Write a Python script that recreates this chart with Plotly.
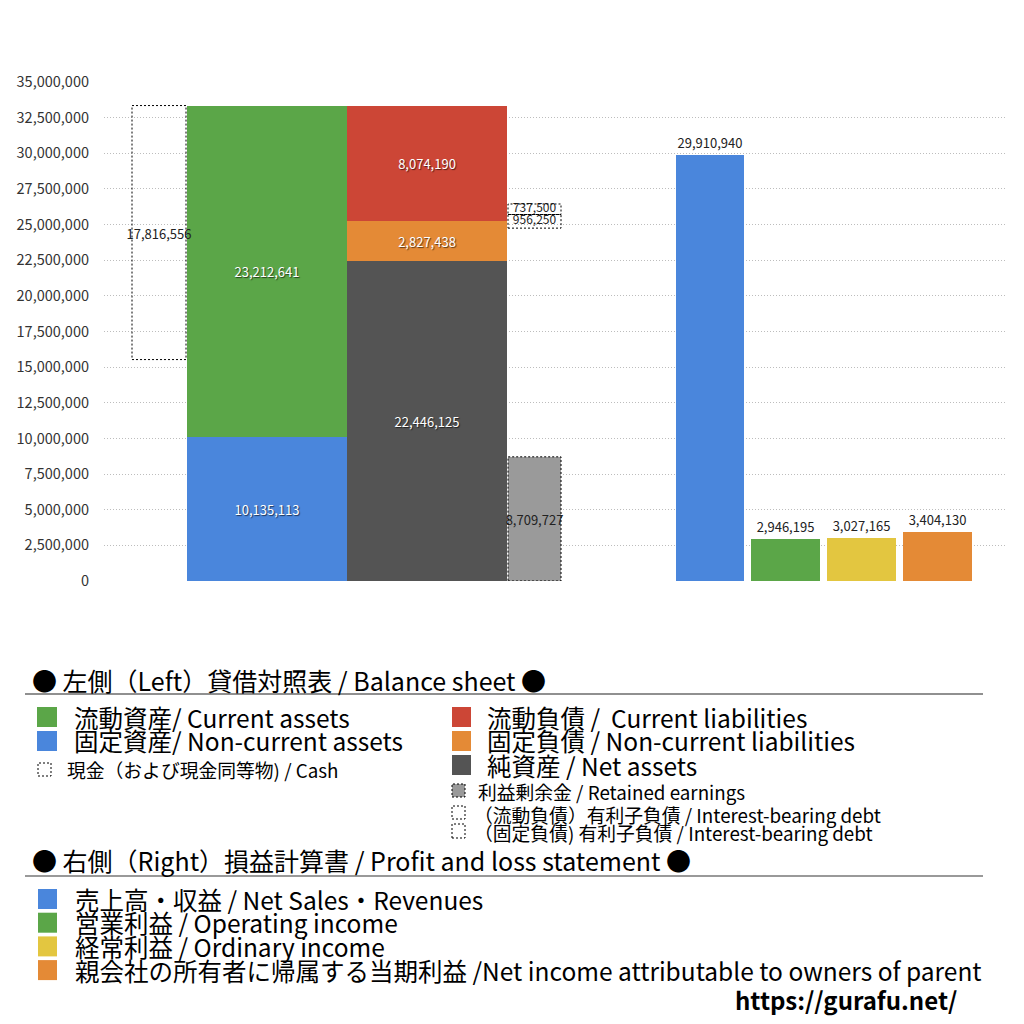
import plotly.graph_objects as go

# ---------------- data ----------------
cash = [17816556]
non_current_assets = [10135113]
current_assets = [23212641]
net_assets = [22446125]
non_current_liabilities = [2827438]
current_liabilities = [8074190]
retained_earnings = [8709727]
debt_current = [737500]
debt_non_current = [956250]
debt_offset = [24750000]  # invisible spacer below the debt boxes

pl_labels = ["売上高・収益", "営業利益", "経常利益", "親会社の所有者に帰属する当期利益"]
pl_values = [29910940, 2946195, 3027165, 3404130]

y_ticks = [i * 2500000 for i in range(15)]

# ---------------- layout constants ----------------
OFF = 8                     # page body margin
FIG = 1024 - 2 * OFF
L, R, T, B = 104, 1006, 82, 581   # plot area in reference pixels
def px(x):
    return (x - L) / (R - L)
def py(y):
    return (B - y) / (B - T)

X_CASH, W_CASH = 159, 54
X_ASSET, W_ASSET = 267, 160
X_LIAB, W_LIAB = 427, 160
X_RET, W_RET = 534.5, 53
X_PL = [710, 785.5, 861.5, 937.5]
W_PL = [68, 69, 69, 69]

C_GREEN = "#5ba648"
C_BLUE = "#4a86dc"
C_RED = "#cc4636"
C_ORANGE = "#e48a36"
C_NET = "#545454"
C_YELLOW = "#e3c640"
C_RET = "#9a9a9a"

FONT = "Noto Sans CJK JP"
white_txt = dict(color="white", size=13, family=FONT, shadow="1px 1px 1px rgba(0,0,0,0.6)")
dark_txt = dict(color="#222222", size=13, family=FONT)

fig = go.Figure()

def fmt(v):
    return f"{v:,}"

def add_bar(x, w, val, base, color, tfont, show_text=True):
    fig.add_trace(go.Bar(
        x=[x], y=val, base=base, width=[w],
        marker=dict(color=color, line=dict(width=0)),
        text=[fmt(v) for v in val] if show_text else None,
        textposition="inside", insidetextanchor="middle",
        textangle=0, textfont=tfont, cliponaxis=False, showlegend=False,
        hoverinfo="skip",
    ))

total_assets = non_current_assets[0] + current_assets[0]

add_bar(X_ASSET, W_ASSET, non_current_assets, [0], C_BLUE, white_txt)
add_bar(X_ASSET, W_ASSET, current_assets, [non_current_assets[0]], C_GREEN, white_txt)
cash_base = total_assets - cash[0]
add_bar(X_CASH, W_CASH, cash, [cash_base], "rgba(255,255,255,0)", dark_txt)
add_bar(X_LIAB, W_LIAB, net_assets, [0], C_NET, white_txt)
add_bar(X_LIAB, W_LIAB, non_current_liabilities, [net_assets[0]], C_ORANGE, white_txt)
add_bar(X_LIAB, W_LIAB, current_liabilities,
        [net_assets[0] + non_current_liabilities[0]], C_RED, white_txt)
add_bar(X_RET, W_RET, retained_earnings, [0], C_RET, dark_txt)

debt_nc_base = debt_offset[0]
debt_c_base = debt_offset[0] + debt_non_current[0]
add_bar(X_RET, W_RET, debt_non_current, [debt_nc_base], "rgba(255,255,255,0)", dark_txt, False)
add_bar(X_RET, W_RET, debt_current, [debt_c_base], "rgba(255,255,255,0)", dark_txt, False)
# labels of the two small debt boxes
fig.add_trace(go.Scatter(
    x=[X_RET, X_RET],
    y=[debt_c_base + debt_current[0] / 2, debt_nc_base + debt_non_current[0] / 2],
    text=[fmt(debt_current[0]), fmt(debt_non_current[0])],
    mode="text", textposition="middle center",
    textfont=dict(color="#222222", size=12, family=FONT),
    cliponaxis=False, showlegend=False, hoverinfo="skip",
))

pl_colors = [C_BLUE, C_GREEN, C_YELLOW, C_ORANGE]
fig.add_trace(go.Bar(
    x=X_PL, y=pl_values, width=W_PL,
    marker=dict(color=pl_colors, line=dict(width=0)),
    text=[fmt(v) for v in pl_values], textposition="outside", textangle=0,
    textfont=dark_txt, cliponaxis=False, showlegend=False, hovertext=pl_labels,
))

def dotted_rect(xc, w, y0, y1):
    fig.add_shape(type="rect", xref="x", yref="y", x0=xc - w / 2, x1=xc + w / 2,
                  y0=y0, y1=y1, line=dict(color="black", width=1, dash="2px,2px"), layer="above")

dotted_rect(X_CASH, W_CASH, cash_base, total_assets)
dotted_rect(X_RET, W_RET, 0, retained_earnings[0])
dotted_rect(X_RET, W_RET, debt_nc_base, debt_nc_base + debt_non_current[0])
dotted_rect(X_RET, W_RET, debt_c_base, debt_c_base + debt_current[0])

# ---------------- legend (custom, paper coords) ----------------
def text(x, y, s, size, color="black", weight="normal"):
    fig.add_annotation(x=px(x), y=py(y), xref="paper", yref="paper", text=s,
                       showarrow=False, xanchor="left", yanchor="middle",
                       font=dict(family=FONT, size=size, color=color, weight=weight))

def square(x0, y0, x1, y1, color, dotted=False):
    fig.add_shape(type="rect", xref="paper", yref="paper",
                  x0=px(x0), x1=px(x1), y0=py(y1), y1=py(y0),
                  fillcolor=color,
                  line=dict(color="black" if dotted else color, width=1 if dotted else 0,
                            dash="2px,2px" if dotted else "solid"))

def hline(y, color, width):
    fig.add_shape(type="line", xref="paper", yref="paper", x0=px(25), x1=px(983),
                  y0=py(y), y1=py(y), line=dict(color=color, width=width))

BIG = 25
ITEM = 24.5
SMALL = 18.8
text(30, 680, "● 左側（Left）貸借対照表 / Balance sheet ●", BIG)
hline(694, "#222222", 1.2)

square(37, 707, 57, 727, C_GREEN)
text(72, 717, "流動資産/ Current assets", ITEM)
square(37, 731, 57, 751, C_BLUE)
text(72, 741, "固定資産/ Non-current assets", ITEM)
square(38, 763, 51, 776, "white", dotted=True)
text(65, 769, "現金（および現金同等物) / Cash", SMALL)

square(452, 707, 471, 727, C_RED)
text(485, 717, "流動負債 / \u00a0Current liabilities", ITEM)
square(452, 731, 471, 751, C_ORANGE)
text(485, 741, "固定負債 / Non-current liabilities", ITEM)
square(452, 755, 471, 775, C_NET)
text(485, 765, "純資産 / Net assets", ITEM)
square(452, 784, 465, 797, C_RET, dotted=True)
text(476, 791, "利益剰余金 / Retained earnings", SMALL)
square(452, 806, 465, 819, "white", dotted=True)
text(472, 814, "（流動負債）有利子負債 / Interest-bearing debt", SMALL)
square(452, 824, 465, 838, "white", dotted=True)
text(472, 832, "（固定負債) 有利子負債 / Interest-bearing debt", SMALL)

text(30, 860, "● 右側（Right）損益計算書 / Profit and loss statement ●", BIG)
hline(876, "#777777", 1.5)

pl_legend = ["売上高・収益 / Net Sales・Revenues", "営業利益 / Operating income",
             "経常利益 / Ordinary income",
             "親会社の所有者に帰属する当期利益 /Net income attributable to owners of parent"]
for i, (s, c) in enumerate(zip(pl_legend, pl_colors)):
    y0 = 889 + i * 23.7
    square(38, y0, 57, y0 + 20, c)
    text(73, y0 + 10, s, ITEM)

text(733, 1000, "https://gurafu.net/", 24, weight="bold")

# ---------------- axes ----------------
fig.update_layout(
    width=FIG, height=FIG,
    margin=dict(l=L - OFF, r=FIG - (R - OFF), t=T - OFF, b=FIG - (B - OFF), pad=0),
    paper_bgcolor="white", plot_bgcolor="white",
    barmode="overlay", bargap=0,
    uniformtext=dict(minsize=13, mode="show"),
    font=dict(family=FONT),
    xaxis=dict(range=[L, R], showticklabels=False, showgrid=False, zeroline=False,
               showline=False, ticks=""),
    yaxis=dict(range=[0, 35000000], tickvals=y_ticks, tickformat=",d",
               showgrid=True, gridcolor="#bdbdbd", griddash="1px,2px", gridwidth=1,
               zeroline=False, showline=False, ticks="", ticklabelstandoff=14,
               tickfont=dict(family=FONT, size=14.5, color="#333333")),
)

fig.write_html("out.html")
